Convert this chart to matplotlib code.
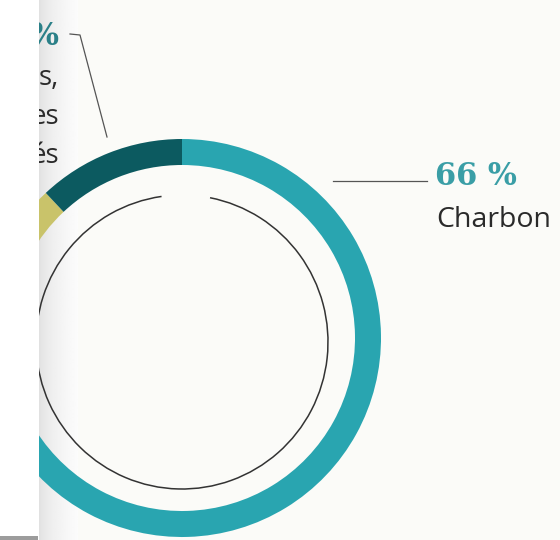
import numpy as np
import matplotlib.pyplot as plt
from matplotlib.patches import Arc, Rectangle

# parts du mix, sens horaire depuis midi (en %)
parts = [66, 12, 10, 12]
couleurs = ['#29a5b0', '#6f9c96', '#c9c36a', '#0c5a60']

# etiquettes
pct_charbon = '66 %'
nom_charbon = 'Charbon'
# fragments visibles de l'etiquette de gauche (coupee par le bord de la page)
frag_gauche = ['%', 's,', 'es', 'és']

W, H = 560, 540
fig = plt.figure(figsize=(W / 100, H / 100), dpi=100)
fig.patch.set_facecolor('white')

# fond en pixels
bg = fig.add_axes([0, 0, 1, 1], zorder=0)
bg.add_patch(Rectangle((38, 0), W, H, color='#fbfbf8', lw=0, zorder=0))
# ombre du bord de page
grad = np.linspace(0, 1, 40) ** 0.5
grad = 0.86 + 0.125 * grad
bg.imshow(np.tile(grad, (2, 1)), cmap='gray', vmin=0, vmax=1, aspect='auto',
          extent=[38, 78, H, 0], interpolation='bilinear', zorder=1)
bg.set_xlim(0, W)
bg.set_ylim(H, 0)
bg.axis('off')

# anneau
R = 199
cx, cy = 182, 338
ax = fig.add_axes([(cx - R) / W, (H - cy - R) / H, 2 * R / W, 2 * R / H], zorder=1)
ax.pie(parts, colors=couleurs, startangle=90, counterclock=False, radius=1,
       wedgeprops=dict(width=26 / R, edgecolor='none', linewidth=0))
ax.set_xlim(-1, 1)
ax.set_ylim(-1, 1)
ax.axis('off')

# calque du dessus (cercle fin, traits, textes)
top = fig.add_axes([0, 0, 1, 1], zorder=2)
top.set_xlim(0, W)
top.set_ylim(H, 0)
top.axis('off')
top.patch.set_alpha(0)

top.add_patch(Arc((182, 342), 292, 294, theta1=281, theta2=622,
                  color='#333333', lw=1.1))

top.plot([333, 427], [181, 181], color='#555555', lw=0.9)
top.plot([70, 80, 107], [34, 35, 137], color='#555555', lw=0.9)

top.text(435, 185, pct_charbon, color='#3a9ea6', fontsize=22, fontweight='bold',
         family='DejaVu Serif', ha='left', va='baseline')
top.text(436, 227, nom_charbon, color='#2a2a2a', fontsize=20.5,
         family='Open Sans', ha='left', va='baseline')

top.text(58, 45, frag_gauche[0], color='#2b8088', fontsize=22, fontweight='bold',
         family='DejaVu Serif', ha='right', va='baseline')
for y, t in zip([85, 124, 163], frag_gauche[1:]):
    top.text(59, y, t, color='#2a2a2a', fontsize=20, family='Open Sans',
             ha='right', va='baseline')

# bord blanc a gauche (hors page) et trait gris en bas
top.add_patch(Rectangle((0, 0), 39, H, color='white', lw=0, zorder=5))
top.add_patch(Rectangle((0, 536), 38, 4, color='#9c9c9c', lw=0, zorder=6))

fig.savefig('out.png', dpi=100)
